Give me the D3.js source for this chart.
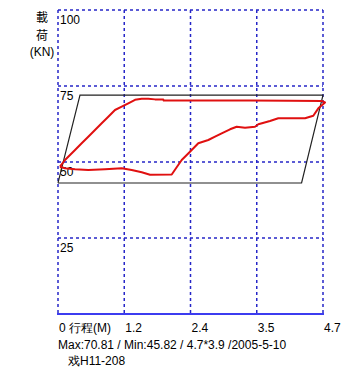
<!DOCTYPE html>
<html>
<head>
<meta charset="utf-8">
<script src="https://cdn.jsdelivr.net/npm/d3@7"></script>
<style>
  body { margin: 0; background: #fff; }
  text { font-family: "Liberation Sans", Arial, sans-serif; font-size: 12px; fill: #000; }
</style>
</head>
<body>
<div id="chart"></div>
<script>
// dynamometer card: stroke (M) vs load (KN)
const upStroke = [0.035, 0.124, 0.213, 0.302, 0.420, 0.537, 0.656, 0.775, 0.892, 1.011, 1.130, 1.247, 1.366, 1.485, 1.601, 1.720, 1.868, 1.875, 2.500, 3.405, 4.100, 4.677, 4.736]
const upLoad   = [48.45, 50.66, 52.30, 53.95, 56.15, 58.32, 60.53, 62.73, 64.90, 67.11, 68.19, 69.31, 70.45, 70.81, 70.80, 70.60, 70.55, 70.20, 70.20, 70.20, 70.15, 70.10, 69.60]
const downStroke = [4.736, 4.617, 4.528, 4.381, 3.907, 3.760, 3.553, 3.494, 3.317, 3.169, 3.051, 2.903, 2.785, 2.666, 2.488, 2.341, 2.194, 2.105, 2.017, 1.632, 1.485, 1.307, 1.130, 0.834, 0.537, 0.302, 0.124, 0.035]
const downLoad   = [69.60, 67.66, 65.23, 64.38, 64.38, 63.49, 62.40, 61.61, 61.28, 61.61, 60.76, 59.44, 58.32, 57.24, 56.15, 53.39, 50.66, 48.26, 45.90, 45.82, 46.60, 47.37, 47.93, 47.60, 47.37, 47.60, 47.93, 48.45]
// theoretical card outline
const cardStroke = [0, 0.39, 4.7, 4.32, 0]
const cardLoad   = [43.1, 72.0, 72.0, 43.1, 43.1]

const yTicks = [25, 50, 75, 100]
const xTickLabels = ["0", "1.2", "2.4", "3.5", "4.7"]
const xMax = 4.7
const infoLine = "Max:70.81 / Min:45.82 / 4.7*3.9 /2005-5-10"
const wellName = "戏H11-208"

const width = 364, height = 379
const plotLeft = 58, plotRight = 323, plotTop = 10, plotBottom = 314

const svg = d3.select("#chart").append("svg")
  .attr("width", width)
  .attr("height", height)

const x = d3.scaleLinear().domain([0, xMax]).range([plotLeft, plotRight])
const y = d3.scaleLinear().domain([0, 100]).range([plotBottom, plotTop])
const xTicks = xTickLabels.map((d, i) => i * xMax / (xTickLabels.length - 1))

const grid = svg.append("g")
  .attr("stroke", "#2626c8")
  .attr("stroke-width", 1.5)
  .attr("stroke-dasharray", "3,3")
grid.selectAll("line.v").data(xTicks).join("line")
  .attr("x1", d => x(d)).attr("x2", d => x(d))
  .attr("y1", y(100)).attr("y2", y(0))
grid.selectAll("line.h").data(yTicks).join("line")
  .attr("x1", plotLeft).attr("x2", plotRight)
  .attr("y1", d => y(d)).attr("y2", d => y(d))

// solid bottom axis
svg.append("line")
  .attr("x1", plotLeft - 1).attr("x2", plotRight + 1)
  .attr("y1", y(0)).attr("y2", y(0))
  .attr("stroke", "#3c3cf0")
  .attr("stroke-width", 2)

svg.selectAll("text.ytick").data(yTicks).join("text")
  .attr("x", plotLeft + 2)
  .attr("y", d => y(d) + 14)
  .text(d => d)

const line = d3.line()

svg.append("path")
  .attr("d", line(cardStroke.map((s, i) => [x(s), y(cardLoad[i])])))
  .attr("fill", "none")
  .attr("stroke", "#222")
  .attr("stroke-width", 1.2)

const loop = upStroke.map((s, i) => [x(s), y(upLoad[i])])
  .concat(downStroke.map((s, i) => [x(s), y(downLoad[i])]))
svg.append("path")
  .attr("d", line(loop))
  .attr("fill", "none")
  .attr("stroke", "#e01010")
  .attr("stroke-width", 2)
  .attr("stroke-linejoin", "round")

// y axis title
const yTitle = svg.append("g").attr("text-anchor", "middle")
yTitle.append("text").attr("x", 42).attr("y", 22).style("font-family", "'Noto Sans CJK SC'").text("載")
yTitle.append("text").attr("x", 42).attr("y", 40).style("font-family", "'Noto Sans CJK SC'").text("荷")
yTitle.append("text").attr("x", 42).attr("y", 56).text("(KN)")

svg.selectAll("text.xtick").data(xTickLabels).join("text")
  .attr("x", (d, i) => x(xTicks[i]) + 1)
  .attr("y", 332)
  .text(d => d)
svg.append("text").attr("x", 69).attr("y", 332).text("行程(M)")

svg.append("text").attr("x", 58).attr("y", 349).text(infoLine)
svg.append("text").attr("x", 68).attr("y", 365).text(wellName)
</script>
</body>
</html>
